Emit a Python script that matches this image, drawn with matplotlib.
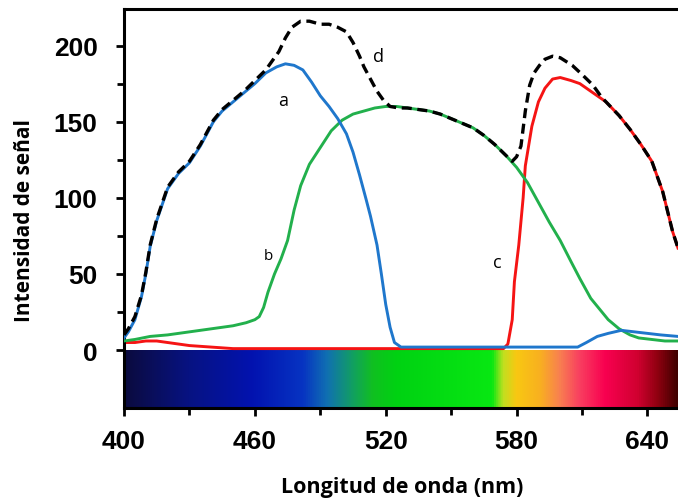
import numpy as np
import matplotlib
matplotlib.use("Agg")
import matplotlib.pyplot as plt
from matplotlib.colors import LinearSegmentedColormap
from matplotlib.ticker import FixedLocator

# Curve a (blue detector channel)
wl_a = [400, 402, 405, 408, 410, 412, 415, 420, 425, 430, 435, 441, 445, 450, 455,
        460, 465, 470, 474, 478, 482, 486, 490, 494, 498, 502, 505, 508, 511, 513,
        516, 518, 520, 522, 524, 527, 560, 600, 608, 612, 617, 622, 628, 634, 640,
        646, 654]
sig_a = [8, 12, 20, 35, 50, 68, 85, 106, 116, 123, 134, 150, 157, 163, 169,
         175, 182, 186, 188, 187, 184, 176, 167, 160, 152, 142, 130, 115, 99, 88,
         69, 50, 30, 15, 5, 2, 2, 2, 2, 5, 9, 11, 13, 12, 11,
         10, 9]

# Curve b (green detector channel)
wl_b = [400, 405, 412, 420, 430, 435, 445, 450, 456, 460, 462, 464, 466, 469, 472,
        475, 478, 481, 485, 490, 495, 500, 505, 510, 515, 520, 525, 530, 535, 540,
        545, 550, 555, 560, 565, 570, 575, 580, 585, 590, 595, 600, 605, 609, 614,
        618, 622, 627, 632, 636, 642, 648, 654]
sig_b = [6, 7, 9, 10, 12, 13, 15, 16, 18, 20, 22, 28, 38, 50, 60,
         72, 92, 108, 122, 133, 144, 151, 155, 157, 159, 160, 160, 159, 158, 157,
         155, 152, 149, 146, 141, 135, 128, 120, 110, 97, 84, 72, 58, 47, 34,
         27, 20, 14, 10, 8, 7, 6, 6]

# Curve c (red detector channel)
wl_c = [400, 405, 410, 415, 420, 425, 430, 440, 450, 470, 520, 574, 576, 578, 579,
        581, 583, 584, 587, 590, 593, 596.5, 600, 605, 609, 615, 621, 627, 632, 637,
        642, 647, 651.5, 654]
sig_c = [5, 5, 6, 6, 5, 4, 3, 2, 1, 1, 1, 1, 4, 20, 45,
         69, 100, 121, 147, 163, 172, 178, 179, 177, 175, 169, 163, 154, 145, 135,
         124, 104, 78, 67]

# Curve d (total signal)
wl_d = [400, 402, 405, 408, 410, 412, 415, 420, 425, 430, 435, 441, 445, 450, 455,
        460, 465, 468, 471, 474, 477, 481, 485, 490, 494, 498, 502, 505, 508, 510,
        513, 516, 519, 522, 526, 530, 535, 540, 545, 550, 555, 560, 565, 570, 575,
        578, 580, 582, 584, 586, 588, 590.5, 593, 596.5, 600, 605.5, 610, 615, 619,
        621, 627, 632, 637, 642, 647, 651.5, 654]
sig_d = [10, 14, 22, 36, 51, 69, 86, 107, 117, 124, 135, 151, 158, 164, 170,
         177, 184, 190, 196, 205, 212, 216, 216, 214, 214, 212, 209, 202, 193, 186,
         178, 170, 164, 160, 159, 159, 158, 157, 155, 152, 149, 146, 141, 135, 128,
         124, 127, 134, 157, 174, 182, 187, 191, 193, 192, 187, 181, 174, 166,
         163, 154, 145, 135, 124, 104, 78, 67]

# Visible spectrum strip drawn under the zero line
spec_nm = [400, 429, 459, 482, 493, 505, 514, 525, 569, 574, 580, 591, 600, 609,
           621, 636, 645, 654]
spec_rgb = ["#0b0b3e", "#071281", "#0213b0", "#0734c2", "#1070b2", "#12a060",
            "#10c020", "#00d212", "#08e812", "#c0e020", "#f8c812", "#f8b020",
            "#f88050", "#f84060", "#f80050", "#d00030", "#900010", "#400000"]

y_ticks = [0, 50, 100, 150, 200]
x_ticks = [400, 460, 520, 580, 640]

x_min, x_max = 400, 654
y_min, y_max = -38, 224

fig = plt.figure(figsize=(6.78, 5.02), dpi=100)
ax = fig.add_axes([124 / 678, 1 - 409 / 502, 1 - 124 / 678, (409 - 10) / 502])

pos = [(v - spec_nm[0]) / (spec_nm[-1] - spec_nm[0]) for v in spec_nm]
cmap = LinearSegmentedColormap.from_list("spectrum", list(zip(pos, spec_rgb)))
grad = np.linspace(0, 1, 512)[None, :]
ax.imshow(grad, cmap=cmap, aspect="auto", extent=[x_min, x_max, y_min, 0],
          interpolation="bilinear", zorder=0)

ax.plot(wl_c, sig_c, color="#f51414", lw=2.1, zorder=2)
ax.plot(wl_b, sig_b, color="#22b04c", lw=2.1, zorder=3)
ax.plot(wl_a, sig_a, color="#1f77cc", lw=2.1, zorder=4)
ax.plot(wl_d, sig_d, color="black", lw=2.4, ls=(0, (3.0, 1.7)), zorder=5)

lab_font = dict(family="Open Sans", color="black")
ax.text(472.8, 164, "a", fontsize=13, ha="center", va="center", **lab_font)
ax.text(466, 62, "b", fontsize=11, ha="center", va="center", **lab_font)
ax.text(571, 58, "c", fontsize=13, ha="center", va="center", **lab_font)
ax.text(516.5, 193, "d", fontsize=13, ha="center", va="center", **lab_font)

ax.set_xlim(x_min, x_max)
ax.set_ylim(y_min, y_max)

ax.xaxis.set_major_locator(FixedLocator(x_ticks))
ax.xaxis.set_minor_locator(FixedLocator([430, 490, 550, 610]))
ax.yaxis.set_major_locator(FixedLocator(y_ticks))
ax.yaxis.set_minor_locator(FixedLocator([25, 75, 125, 175]))

for side in ["left", "top", "bottom"]:
    ax.spines[side].set_linewidth(2.2)
ax.spines["right"].set_visible(False)

ax.tick_params(which="both", direction="out", width=2, colors="black")
ax.tick_params(which="major", length=6)
ax.tick_params(which="minor", length=5)
ax.tick_params(axis="x", which="major", pad=9)
ax.tick_params(axis="y", which="major", pad=13)

for lab in ax.get_xticklabels() + ax.get_yticklabels():
    lab.set_family("Liberation Sans")
    lab.set_fontweight("bold")
    lab.set_fontsize(19)

ax.set_xlabel("Longitud de onda (nm)", family="Open Sans", fontweight="bold",
              fontsize=15.5)
ax.set_ylabel("Intensidad de señal", family="Open Sans", fontweight="bold",
              fontsize=15)
ax.xaxis.set_label_coords((402 - 124) / 554, -(477 - 409) / 399)
ax.yaxis.set_label_coords(-(124 - 35) / 554, (399 - (221 - 10)) / 399)

fig.savefig("out.png", dpi=100)
